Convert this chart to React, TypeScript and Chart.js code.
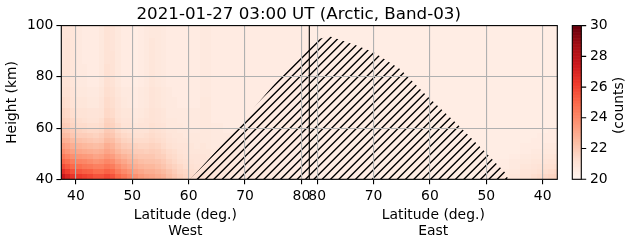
import React, { useEffect, useRef } from "react";
import { Chart, registerables } from "chart.js";

Chart.register(...registerables);

// ---------------- data ----------------
const chartTitle = "2021-01-27 03:00 UT (Arctic, Band-03)";
const xLabel = "Latitude (deg.)";
const westLabel = "West";
const eastLabel = "East";
const yLabel = "Height (km)";
const colorbarLabel = "(counts)";

const poleLat = 81.4; // latitude where the West and East panels meet
const westLatMin = 37.4;
const eastLatMin = 37.4;
const heightMin = 40;
const heightMax = 100;
const countsMin = 20;
const countsMax = 30;

const westTickLats = [40, 50, 60, 70, 80];
const eastTickLats = [80, 70, 60, 50, 40];
const heightTicks = [40, 60, 80, 100];
const countTicks = [20, 22, 24, 26, 28, 30];

// cell edges (km) - rows of the count arrays, bottom to top
const heightEdges = [40, 42, 44, 46, 48, 50, 52, 54, 56, 58, 60, 62, 64, 68, 72, 76, 80, 85, 90, 95, 100];

// West panel latitude cell edges (equator-ward -> pole)
const westLatEdges = [37, 38, 39, 40, 41, 42, 43, 44, 45, 46, 47, 48, 49, 50, 51, 52, 53, 54, 55, 56, 57, 58, 59, 60, 61, 62, 63, 64, 66, 68, 70, 72, 74, 76, 78, 80, 81.4];

// East panel latitude cell edges (pole -> equator-ward)
const eastLatEdges = [81.4, 80, 78, 76, 74, 72, 70, 68, 66, 64, 62, 60, 58, 56, 54, 52, 50, 48, 46, 44, 42, 41, 40, 39, 38, 37];

const westCounts = [
  [27.6, 27.0, 26.5, 26.3, 26.1, 25.9, 25.6, 25.6, 25.9, 25.6, 25.0, 24.6, 24.2, 23.8, 23.5, 23.3, 23.2, 23.0, 22.8, 22.4, 22.1, 21.8, 21.6, 21.4, 21.3, 21.2, 21.1, 21.0, 20.9, 20.8, 20.8, 20.7, 20.7, 20.7, 20.6, 20.6],
  [26.7, 26.2, 25.7, 25.5, 25.3, 25.2, 24.9, 24.9, 25.2, 25.0, 24.4, 24.0, 23.7, 23.3, 23.1, 22.9, 22.9, 22.7, 22.5, 22.2, 21.9, 21.6, 21.5, 21.3, 21.2, 21.1, 21.0, 20.9, 20.9, 20.8, 20.7, 20.7, 20.7, 20.6, 20.6, 20.6],
  [25.8, 25.4, 25.0, 24.8, 24.6, 24.5, 24.3, 24.3, 24.6, 24.4, 23.9, 23.5, 23.2, 22.9, 22.7, 22.6, 22.6, 22.4, 22.2, 21.9, 21.7, 21.5, 21.3, 21.2, 21.1, 21.1, 21.0, 20.9, 20.8, 20.7, 20.7, 20.7, 20.6, 20.6, 20.6, 20.6],
  [25.1, 24.8, 24.4, 24.2, 24.1, 23.9, 23.7, 23.8, 24.1, 23.9, 23.4, 23.1, 22.8, 22.6, 22.4, 22.3, 22.3, 22.2, 22.0, 21.7, 21.5, 21.3, 21.2, 21.1, 21.0, 21.0, 20.9, 20.8, 20.8, 20.7, 20.7, 20.6, 20.6, 20.6, 20.6, 20.6],
  [24.5, 24.2, 23.8, 23.6, 23.5, 23.4, 23.2, 23.3, 23.6, 23.4, 23.0, 22.7, 22.5, 22.2, 22.1, 22.1, 22.1, 21.9, 21.8, 21.5, 21.4, 21.2, 21.1, 21.0, 21.0, 21.0, 20.9, 20.8, 20.8, 20.7, 20.6, 20.6, 20.6, 20.6, 20.6, 20.6],
  [23.9, 23.6, 23.3, 23.1, 23.0, 22.9, 22.8, 22.9, 23.2, 23.0, 22.6, 22.3, 22.2, 21.9, 21.9, 21.8, 21.9, 21.8, 21.6, 21.4, 21.3, 21.1, 21.0, 20.9, 20.9, 20.9, 20.9, 20.8, 20.7, 20.7, 20.6, 20.6, 20.6, 20.6, 20.6, 20.6],
  [23.4, 23.2, 22.9, 22.7, 22.6, 22.5, 22.4, 22.5, 22.9, 22.7, 22.3, 22.0, 21.9, 21.7, 21.6, 21.6, 21.7, 21.6, 21.4, 21.2, 21.1, 21.0, 21.0, 20.9, 20.8, 20.9, 20.8, 20.7, 20.7, 20.7, 20.6, 20.6, 20.6, 20.6, 20.6, 20.6],
  [22.9, 22.8, 22.5, 22.3, 22.2, 22.1, 22.0, 22.1, 22.5, 22.4, 22.0, 21.7, 21.6, 21.4, 21.4, 21.4, 21.5, 21.4, 21.3, 21.1, 21.0, 20.9, 20.9, 20.8, 20.8, 20.8, 20.8, 20.7, 20.7, 20.6, 20.6, 20.6, 20.6, 20.6, 20.6, 20.6],
  [22.5, 22.4, 22.1, 21.9, 21.9, 21.8, 21.7, 21.9, 22.2, 22.1, 21.7, 21.5, 21.4, 21.2, 21.2, 21.3, 21.4, 21.3, 21.2, 21.0, 20.9, 20.9, 20.8, 20.8, 20.8, 20.8, 20.8, 20.7, 20.7, 20.6, 20.6, 20.6, 20.6, 20.6, 20.6, 20.6],
  [22.2, 22.1, 21.9, 21.7, 21.6, 21.5, 21.5, 21.6, 22.0, 21.9, 21.5, 21.3, 21.2, 21.1, 21.1, 21.1, 21.3, 21.2, 21.1, 20.9, 20.9, 20.8, 20.8, 20.7, 20.7, 20.8, 20.8, 20.7, 20.6, 20.6, 20.6, 20.6, 20.6, 20.6, 20.6, 20.6],
  [22.0, 21.9, 21.6, 21.4, 21.4, 21.3, 21.3, 21.4, 21.8, 21.7, 21.4, 21.1, 21.1, 20.9, 21.0, 21.0, 21.2, 21.1, 21.0, 20.8, 20.8, 20.8, 20.7, 20.7, 20.7, 20.8, 20.8, 20.7, 20.6, 20.6, 20.6, 20.6, 20.6, 20.6, 20.6, 20.6],
  [21.8, 21.7, 21.5, 21.3, 21.2, 21.1, 21.1, 21.3, 21.7, 21.6, 21.2, 21.0, 21.0, 20.8, 20.9, 21.0, 21.1, 21.0, 20.9, 20.8, 20.8, 20.7, 20.7, 20.7, 20.7, 20.8, 20.8, 20.6, 20.6, 20.6, 20.6, 20.6, 20.6, 20.6, 20.6, 20.6],
  [21.6, 21.5, 21.3, 21.1, 21.1, 21.0, 21.0, 21.1, 21.5, 21.4, 21.1, 20.9, 20.9, 20.7, 20.8, 20.9, 21.1, 21.0, 20.9, 20.7, 20.7, 20.7, 20.7, 20.7, 20.7, 20.8, 20.8, 20.6, 20.6, 20.6, 20.6, 20.6, 20.6, 20.6, 20.6, 20.6],
  [21.4, 21.3, 21.1, 20.9, 20.9, 20.8, 20.8, 21.0, 21.4, 21.3, 21.0, 20.8, 20.7, 20.6, 20.7, 20.8, 21.0, 20.9, 20.8, 20.7, 20.7, 20.6, 20.6, 20.6, 20.6, 20.8, 20.8, 20.6, 20.6, 20.6, 20.6, 20.6, 20.6, 20.6, 20.6, 20.6],
  [21.2, 21.2, 21.0, 20.8, 20.8, 20.7, 20.7, 20.9, 21.3, 21.2, 20.9, 20.7, 20.7, 20.6, 20.7, 20.8, 21.0, 20.9, 20.8, 20.7, 20.6, 20.6, 20.6, 20.6, 20.6, 20.7, 20.7, 20.6, 20.6, 20.6, 20.6, 20.6, 20.6, 20.6, 20.6, 20.6],
  [21.1, 21.1, 20.9, 20.7, 20.7, 20.6, 20.6, 20.8, 21.2, 21.1, 20.8, 20.6, 20.6, 20.5, 20.6, 20.7, 20.9, 20.8, 20.7, 20.6, 20.6, 20.6, 20.6, 20.6, 20.6, 20.7, 20.7, 20.6, 20.6, 20.6, 20.6, 20.6, 20.6, 20.6, 20.6, 20.6],
  [21.1, 21.1, 20.9, 20.7, 20.7, 20.6, 20.6, 20.8, 21.2, 21.1, 20.8, 20.6, 20.6, 20.5, 20.6, 20.7, 20.9, 20.8, 20.7, 20.6, 20.6, 20.6, 20.6, 20.6, 20.6, 20.7, 20.7, 20.6, 20.6, 20.6, 20.6, 20.6, 20.6, 20.6, 20.6, 20.6],
  [21.0, 21.1, 20.9, 20.7, 20.6, 20.6, 20.6, 20.8, 21.1, 21.1, 20.8, 20.6, 20.6, 20.5, 20.6, 20.7, 20.9, 20.8, 20.7, 20.6, 20.6, 20.6, 20.6, 20.6, 20.6, 20.7, 20.7, 20.6, 20.6, 20.6, 20.6, 20.6, 20.6, 20.6, 20.6, 20.6],
  [21.0, 21.1, 20.9, 20.7, 20.6, 20.6, 20.6, 20.8, 21.1, 21.0, 20.8, 20.6, 20.6, 20.5, 20.6, 20.7, 20.9, 20.8, 20.7, 20.6, 20.6, 20.6, 20.6, 20.6, 20.6, 20.7, 20.7, 20.6, 20.6, 20.6, 20.6, 20.6, 20.6, 20.6, 20.6, 20.6],
  [21.0, 21.0, 20.9, 20.7, 20.6, 20.6, 20.6, 20.8, 21.1, 21.0, 20.8, 20.6, 20.6, 20.5, 20.6, 20.7, 20.8, 20.8, 20.7, 20.6, 20.6, 20.6, 20.6, 20.6, 20.6, 20.7, 20.7, 20.6, 20.6, 20.6, 20.6, 20.6, 20.6, 20.6, 20.6, 20.6],
];

const eastCounts = [
  [20.5, 20.5, 20.5, 20.5, 20.5, 20.5, 20.5, 20.5, 20.5, 20.5, 20.5, 20.5, 20.5, 20.5, 20.5, 20.5, 20.7, 20.8, 20.9, 21.1, 21.3, 21.4, 21.5, 21.6, 21.7],
  [20.5, 20.5, 20.5, 20.5, 20.5, 20.5, 20.5, 20.5, 20.5, 20.5, 20.5, 20.5, 20.5, 20.5, 20.5, 20.5, 20.6, 20.7, 20.8, 21.0, 21.1, 21.2, 21.3, 21.4, 21.5],
  [20.5, 20.5, 20.5, 20.5, 20.5, 20.5, 20.5, 20.5, 20.5, 20.5, 20.5, 20.5, 20.5, 20.5, 20.5, 20.5, 20.6, 20.6, 20.7, 20.9, 21.0, 21.1, 21.2, 21.2, 21.3],
  [20.5, 20.5, 20.5, 20.5, 20.5, 20.5, 20.5, 20.5, 20.5, 20.5, 20.5, 20.5, 20.5, 20.5, 20.5, 20.5, 20.5, 20.6, 20.7, 20.8, 20.9, 20.9, 21.0, 21.1, 21.1],
  [20.5, 20.5, 20.5, 20.5, 20.5, 20.5, 20.5, 20.5, 20.5, 20.5, 20.5, 20.5, 20.5, 20.5, 20.5, 20.5, 20.5, 20.5, 20.6, 20.7, 20.8, 20.8, 20.9, 20.9, 21.0],
  [20.5, 20.5, 20.5, 20.5, 20.5, 20.5, 20.5, 20.5, 20.5, 20.5, 20.5, 20.5, 20.5, 20.5, 20.5, 20.5, 20.5, 20.5, 20.5, 20.6, 20.7, 20.7, 20.8, 20.8, 20.8],
  [20.5, 20.5, 20.5, 20.5, 20.5, 20.5, 20.5, 20.5, 20.5, 20.5, 20.5, 20.5, 20.5, 20.5, 20.5, 20.5, 20.5, 20.5, 20.5, 20.6, 20.6, 20.6, 20.7, 20.7, 20.7],
  [20.5, 20.5, 20.5, 20.5, 20.5, 20.5, 20.5, 20.5, 20.5, 20.5, 20.5, 20.5, 20.5, 20.5, 20.5, 20.5, 20.5, 20.5, 20.5, 20.5, 20.6, 20.6, 20.6, 20.6, 20.6],
  [20.5, 20.5, 20.5, 20.5, 20.5, 20.5, 20.5, 20.5, 20.5, 20.5, 20.5, 20.5, 20.5, 20.5, 20.5, 20.5, 20.5, 20.5, 20.5, 20.5, 20.5, 20.6, 20.6, 20.6, 20.6],
  [20.5, 20.5, 20.5, 20.5, 20.5, 20.5, 20.5, 20.5, 20.5, 20.5, 20.5, 20.5, 20.5, 20.5, 20.5, 20.5, 20.5, 20.5, 20.5, 20.5, 20.5, 20.5, 20.5, 20.6, 20.6],
  [20.5, 20.5, 20.5, 20.5, 20.5, 20.5, 20.5, 20.5, 20.5, 20.5, 20.5, 20.5, 20.5, 20.5, 20.5, 20.5, 20.5, 20.5, 20.5, 20.5, 20.5, 20.5, 20.5, 20.5, 20.5],
  [20.5, 20.5, 20.5, 20.5, 20.5, 20.5, 20.5, 20.5, 20.5, 20.5, 20.5, 20.5, 20.5, 20.5, 20.5, 20.5, 20.5, 20.5, 20.5, 20.5, 20.5, 20.5, 20.5, 20.5, 20.5],
  [20.5, 20.5, 20.5, 20.5, 20.5, 20.5, 20.5, 20.5, 20.5, 20.5, 20.5, 20.5, 20.5, 20.5, 20.5, 20.5, 20.5, 20.5, 20.5, 20.5, 20.5, 20.5, 20.5, 20.5, 20.5],
  [20.5, 20.5, 20.5, 20.5, 20.5, 20.5, 20.5, 20.5, 20.5, 20.5, 20.5, 20.5, 20.5, 20.5, 20.5, 20.5, 20.5, 20.5, 20.5, 20.5, 20.5, 20.5, 20.5, 20.5, 20.5],
  [20.5, 20.5, 20.5, 20.5, 20.5, 20.5, 20.5, 20.5, 20.5, 20.5, 20.5, 20.5, 20.5, 20.5, 20.5, 20.5, 20.5, 20.5, 20.5, 20.5, 20.5, 20.5, 20.5, 20.5, 20.5],
  [20.5, 20.5, 20.5, 20.5, 20.5, 20.5, 20.5, 20.5, 20.5, 20.5, 20.5, 20.5, 20.5, 20.5, 20.5, 20.5, 20.5, 20.5, 20.5, 20.5, 20.5, 20.5, 20.5, 20.5, 20.5],
  [20.5, 20.5, 20.5, 20.5, 20.5, 20.5, 20.5, 20.5, 20.5, 20.5, 20.5, 20.5, 20.5, 20.5, 20.5, 20.5, 20.5, 20.5, 20.5, 20.5, 20.5, 20.5, 20.5, 20.5, 20.5],
  [20.5, 20.5, 20.5, 20.5, 20.5, 20.5, 20.5, 20.5, 20.5, 20.5, 20.5, 20.5, 20.5, 20.5, 20.5, 20.5, 20.5, 20.5, 20.5, 20.5, 20.5, 20.5, 20.5, 20.5, 20.5],
  [20.5, 20.5, 20.5, 20.5, 20.5, 20.5, 20.5, 20.5, 20.5, 20.5, 20.5, 20.5, 20.5, 20.5, 20.5, 20.5, 20.5, 20.5, 20.5, 20.5, 20.5, 20.5, 20.5, 20.5, 20.5],
  [20.5, 20.5, 20.5, 20.5, 20.5, 20.5, 20.5, 20.5, 20.5, 20.5, 20.5, 20.5, 20.5, 20.5, 20.5, 20.5, 20.5, 20.5, 20.5, 20.5, 20.5, 20.5, 20.5, 20.5, 20.5],
];

// hatched (masked) region outline: west side rising edge, east side falling edge
const westHatchLat = [60.3, 66.1, 72.0, 77.5, 80.4];
const westHatchTop = [40, 54, 69, 83, 89.7];
const eastHatchLat = [81.1, 80.1, 77.7, 73.0, 70.0, 65.3, 60.6, 55.5, 50.5, 46.7, 46.1];
const eastHatchTop = [92.7, 94.7, 95.7, 92.2, 89.6, 83.1, 72.7, 62.3, 51.3, 42.8, 40];

// ---------------- styling ----------------
const REDS = ["#fff5f0", "#fee0d2", "#fcbba1", "#fc9272", "#fb6a4a", "#ef3b2c", "#cb181d", "#a50f15", "#67000d"];
const redsRGB = REDS.map((h) => [parseInt(h.slice(1, 3), 16), parseInt(h.slice(3, 5), 16), parseInt(h.slice(5, 7), 16)]);
const FAMILY = "'DejaVu Sans', sans-serif";
const TICK_SIZE = 13.9;
const TITLE_SIZE = 16.7;

function countColor(v: number): string {
  const t = Math.min(1, Math.max(0, (v - countsMin) / (countsMax - countsMin)));
  const pos = t * (redsRGB.length - 1);
  const i = Math.min(redsRGB.length - 2, Math.floor(pos));
  const f = pos - i;
  const a = redsRGB[i];
  const b = redsRGB[i + 1];
  const c = [0, 1, 2].map((k) => Math.round(a[k] + (b[k] - a[k]) * f));
  return `rgb(${c[0]},${c[1]},${c[2]})`;
}

const eastX = (lat: number) => 2 * poleLat - lat;
const xTickValues = [...westTickLats, ...eastTickLats.map(eastX)];
const xTickLabels = [...westTickLats, ...eastTickLats].map(String);

const heatmapPlugin = {
  id: "heatmapCells",
  beforeDraw(chart: any) {
    const { ctx, chartArea: a, scales } = chart;
    const xs = scales.x;
    const ys = scales.y;
    ctx.save();
    ctx.beginPath();
    ctx.rect(a.left, a.top, a.right - a.left, a.bottom - a.top);
    ctx.clip();
    const drawPanel = (edges: number[], toX: (l: number) => number, counts: number[][]) => {
      for (let r = 0; r < heightEdges.length - 1; r++) {
        const y0 = Math.round(ys.getPixelForValue(heightEdges[r]));
        const y1 = Math.round(ys.getPixelForValue(heightEdges[r + 1]));
        for (let c = 0; c < edges.length - 1; c++) {
          const x0 = Math.round(xs.getPixelForValue(toX(edges[c])));
          const x1 = Math.round(xs.getPixelForValue(toX(edges[c + 1])));
          ctx.fillStyle = countColor(counts[r][c]);
          ctx.fillRect(Math.min(x0, x1), Math.min(y0, y1), Math.abs(x1 - x0), Math.abs(y1 - y0));
        }
      }
    };
    drawPanel(westLatEdges, (l) => l, westCounts);
    drawPanel(eastLatEdges, eastX, eastCounts);

    // hatched region
    ctx.beginPath();
    westHatchLat.forEach((lat, i) => {
      const px = xs.getPixelForValue(lat);
      const py = ys.getPixelForValue(westHatchTop[i]);
      if (i === 0) ctx.moveTo(px, py);
      else ctx.lineTo(px, py);
    });
    eastHatchLat.forEach((lat, i) => {
      ctx.lineTo(xs.getPixelForValue(eastX(lat)), ys.getPixelForValue(eastHatchTop[i]));
    });
    ctx.closePath();
    ctx.clip();
    ctx.strokeStyle = "#000";
    ctx.lineWidth = 1.39;
    const sp = 100 / 12;
    const phase = 1.5;
    ctx.beginPath();
    for (let c = Math.floor((a.left + a.top - phase) / sp) * sp + phase; c <= a.right + a.bottom + sp; c += sp) {
      ctx.moveTo(c - a.bottom - 2, a.bottom + 2);
      ctx.lineTo(c - a.top + 2, a.top - 2);
    }
    ctx.stroke();
    ctx.restore();
  },
};

const overlayPlugin = {
  id: "overlay",
  afterDraw(chart: any) {
    const { ctx, chartArea: a, scales } = chart;
    const xs = scales.x;
    const cb = scales.y2;
    ctx.save();
    // frame + panel divider
    ctx.strokeStyle = "#000";
    ctx.lineWidth = 1.1;
    ctx.strokeRect(a.left, a.top, a.right - a.left, a.bottom - a.top);
    const px = xs.getPixelForValue(poleLat);
    ctx.beginPath();
    ctx.moveTo(px, a.top);
    ctx.lineTo(px, a.bottom);
    ctx.stroke();

    // colorbar
    const bx0 = a.right + 15;
    const bx1 = a.right + 24;
    const steps = 256;
    for (let i = 0; i < steps; i++) {
      const v0 = countsMin + ((countsMax - countsMin) * i) / steps;
      const v1 = countsMin + ((countsMax - countsMin) * (i + 1)) / steps;
      const ya = cb.getPixelForValue(v0);
      const yb = cb.getPixelForValue(v1);
      ctx.fillStyle = countColor((v0 + v1) / 2);
      ctx.fillRect(bx0, yb, bx1 - bx0, ya - yb + 0.6);
    }
    const cTop = cb.getPixelForValue(countsMax);
    const cBot = cb.getPixelForValue(countsMin);
    ctx.strokeRect(bx0, cTop, bx1 - bx0, cBot - cTop);
    ctx.beginPath();
    countTicks.forEach((t) => {
      const y = cb.getPixelForValue(t);
      ctx.moveTo(bx1, y);
      ctx.lineTo(bx1 + 4.9, y);
    });
    ctx.stroke();

    // texts
    ctx.fillStyle = "#000";
    ctx.textBaseline = "alphabetic";
    ctx.textAlign = "center";
    ctx.font = `${TITLE_SIZE}px ${FAMILY}`;
    ctx.fillText(chartTitle, 298.7, 19);

    ctx.font = `${TICK_SIZE}px ${FAMILY}`;
    const westC = xs.getPixelForValue((westLatMin + poleLat) / 2);
    const eastC = xs.getPixelForValue((eastX(eastLatMin) + poleLat) / 2);
    ctx.fillText(xLabel, westC, a.bottom + 39.2);
    ctx.fillText(westLabel, westC, a.bottom + 55.7);
    ctx.fillText(xLabel, eastC, a.bottom + 39.2);
    ctx.fillText(eastLabel, eastC, a.bottom + 55.7);

    const midY = (a.top + a.bottom) / 2;
    ctx.save();
    ctx.translate(16.3, midY);
    ctx.rotate(-Math.PI / 2);
    ctx.fillText(yLabel, 0, 0);
    ctx.restore();

    ctx.save();
    ctx.translate(623.2, midY + 3);
    ctx.rotate(-Math.PI / 2);
    ctx.fillText(colorbarLabel, 0, 0);
    ctx.restore();

    ctx.restore();
  },
};

const tickFont = { family: FAMILY, size: TICK_SIZE };

export default function App() {
  const canvasRef = useRef<HTMLCanvasElement | null>(null);

  useEffect(() => {
    if (!canvasRef.current) return;
    const chart = new Chart(canvasRef.current, {
      type: "scatter",
      data: { datasets: [] },
      plugins: [heatmapPlugin, overlayPlugin],
      options: {
        responsive: false,
        animation: false,
        events: [],
        layout: { padding: { top: 25.6, left: 0, right: 0, bottom: 0 } },
        plugins: { legend: { display: false }, title: { display: false }, tooltip: { enabled: false } },
        scales: {
          x: {
            type: "linear",
            position: "bottom",
            min: westLatMin,
            max: eastX(eastLatMin),
            afterBuildTicks: (s: any) => {
              s.ticks = xTickValues.map((v) => ({ value: v }));
            },
            afterFit: (s: any) => {
              s.height = 63.7;
            },
            ticks: {
              autoSkip: false,
              maxRotation: 0,
              minRotation: 0,
              padding: 4,
              color: "#000",
              font: tickFont,
              callback: (_v: any, i: number) => xTickLabels[i],
            },
            grid: { color: "#b0b0b0", lineWidth: 1.1, tickLength: 4.9, tickColor: "#000", tickWidth: 1.1 },
            border: { display: false },
          },
          y: {
            type: "linear",
            position: "left",
            min: heightMin,
            max: heightMax,
            afterBuildTicks: (s: any) => {
              s.ticks = heightTicks.map((v) => ({ value: v }));
            },
            afterFit: (s: any) => {
              s.width = 61.3;
            },
            ticks: { padding: 3, color: "#000", font: tickFont, callback: (v: any) => String(v) },
            grid: { color: "#b0b0b0", lineWidth: 1.1, tickLength: 4.9, tickColor: "#000", tickWidth: 1.1 },
            border: { display: false },
          },
          y2: {
            type: "linear",
            axis: "y",
            position: "right",
            min: countsMin,
            max: countsMax,
            afterBuildTicks: (s: any) => {
              s.ticks = countTicks.map((v) => ({ value: v }));
            },
            afterFit: (s: any) => {
              s.width = 73.7;
            },
            ticks: { padding: 3.7, color: "#000", font: tickFont, callback: (v: any) => String(v) },
            grid: { drawOnChartArea: false, tickLength: 29, tickColor: "rgba(0,0,0,0)" },
            border: { display: false },
          },
        },
      } as any,
    });
    return () => chart.destroy();
  }, []);

  return (
    <div style={{ position: "fixed", left: 0, top: 0, width: 631, height: 243, background: "#fff" }}>
      <canvas ref={canvasRef} width={631} height={243} style={{ display: "block" }} />
    </div>
  );
}
